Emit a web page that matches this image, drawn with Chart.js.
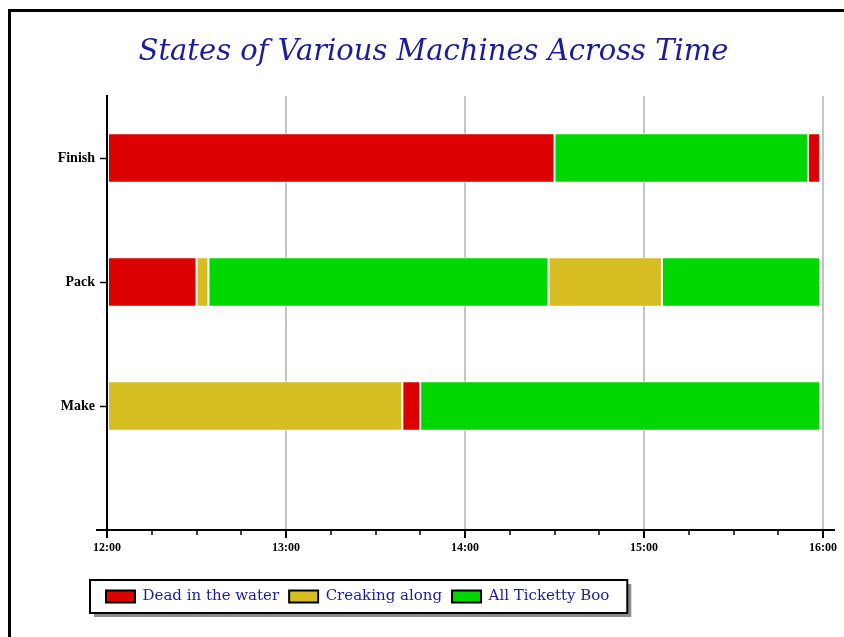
<!DOCTYPE html>
<html>
<head>
<meta charset="utf-8">
<script src="https://cdn.jsdelivr.net/npm/chart.js@4/dist/chart.umd.min.js"></script>
<style>
  body { margin: 0; background: #fff; overflow: hidden; }
  #frame { position: absolute; left: 8px; top: 9px; width: 900px; height: 700px; border: 3px solid #000; }
  #title { position: absolute; left: 0; width: 867px; top: 33px; line-height: 34px; text-align: center;
           font: italic 29px "DejaVu Serif"; color: #1c1c96; z-index: 2; }
  canvas { position: absolute; left: 0; top: 0; z-index: 1; }
</style>
</head>
<body>
<div id="frame"></div>
<div id="title">States of Various Machines Across Time</div>
<canvas id="chart" width="844" height="637"></canvas>
<script>
const machines = ['Finish', 'Pack', 'Make'];
const states = ['Dead in the water', 'Creaking along', 'All Ticketty Boo'];
const hourLabels = ['12:00', '13:00', '14:00', '15:00', '16:00'];

// times where each machine changes state, and the state between them
const finishTimes = ['12:00', '14:30', '15:55', '15:59'];
const finishStates = [0, 2, 0];
const packTimes = ['12:00', '12:30', '12:34', '14:28', '15:06', '15:59'];
const packStates = [0, 1, 2, 1, 2];
const makeTimes = ['12:00', '13:39', '13:45', '15:59'];
const makeStates = [1, 0, 2];

const stateColors = ['#dc0000', '#d6bd22', '#00d600'];
const inkBlue = '#1c1c96';

const toMinutes = t => {
  const [h, m] = t.split(':').map(Number);
  return (h - 12) * 60 + m;
};

const timelines = [[finishTimes, finishStates], [packTimes, packStates], [makeTimes, makeStates]];

const datasets = states.map((label, s) => ({
  label,
  data: [],
  backgroundColor: stateColors[s],
  borderColor: '#fff',
  borderWidth: 1,
  borderSkipped: false,
  grouped: false,
  barPercentage: 0.4,
  categoryPercentage: 1
}));

timelines.forEach(([times, codes], m) => {
  codes.forEach((s, i) => {
    datasets[s].data.push({y: machines.length - m, x: [toMinutes(times[i]), toMinutes(times[i + 1])]});
  });
});

const extras = {
  id: 'extras',
  afterLayout(chart) {
    // legend starts just left of the plot, not at the canvas padding
    chart.legend.left = chart.chartArea.left - 11;
  },
  beforeDraw(chart) {
    // boxed legend with a drop shadow
    const boxes = chart.legend.legendHitBoxes;
    if (!boxes || !boxes.length) return;
    const first = boxes[0], last = boxes[boxes.length - 1];
    const x0 = first.left - 16, x1 = last.left + last.width + 18;
    const y0 = first.top - 9, y1 = first.top + first.height + 9;
    const ctx = chart.ctx;
    ctx.save();
    ctx.fillStyle = '#8c8c8c';
    ctx.fillRect(x0 + 4, y0 + 4, x1 - x0, y1 - y0);
    ctx.fillStyle = '#fff';
    ctx.fillRect(x0, y0, x1 - x0, y1 - y0);
    ctx.strokeStyle = '#000';
    ctx.lineWidth = 2;
    ctx.strokeRect(x0, y0, x1 - x0, y1 - y0);
    ctx.restore();
  },
  afterDraw(chart) {
    const {ctx, chartArea} = chart;
    const x = chart.scales.x;
    ctx.save();
    ctx.strokeStyle = '#000';
    ctx.lineWidth = 2;
    ctx.beginPath();
    ctx.moveTo(chartArea.left - 11, chartArea.bottom);
    ctx.lineTo(chartArea.right + 12, chartArea.bottom);
    ctx.stroke();
    // quarter hour minor ticks
    ctx.lineWidth = 1.5;
    for (let m = x.min + 15; m < x.max; m += 15) {
      if (m % 60 === 0) continue;
      const px = Math.round(x.getPixelForValue(m));
      ctx.beginPath();
      ctx.moveTo(px, chartArea.bottom);
      ctx.lineTo(px, chartArea.bottom + 5);
      ctx.stroke();
    }
    ctx.restore();
  }
};

new Chart(document.getElementById('chart'), {
  type: 'bar',
  data: {datasets},
  plugins: [extras],
  options: {
    indexAxis: 'y',
    responsive: false,
    animation: false,
    layout: {padding: {left: 43, right: 21, top: 96, bottom: 23}},
    scales: {
      x: {
        type: 'linear',
        min: 0,
        max: 240,
        afterFit: s => { s.height = 49; },
        border: {color: '#000', width: 2},
        grid: {color: '#c4c4c4', lineWidth: 2, tickColor: '#000', tickLength: 8, tickWidth: 2},
        ticks: {
          stepSize: 60,
          padding: 3,
          maxRotation: 0,
          color: '#000',
          font: {family: 'Liberation Serif', size: 12, weight: 'bold'},
          callback: v => hourLabels[v / 60]
        }
      },
      y: {
        type: 'linear',
        min: 0,
        max: 3.5,
        offset: false,
        afterFit: s => { s.width = 64; },
        afterBuildTicks: s => { s.ticks = machines.map((_, i) => ({value: i + 1})); },
        border: {color: '#000', width: 2},
        grid: {offset: false, color: '#cfcfcf', lineWidth: 1, tickColor: '#000', tickLength: 7, tickWidth: 1.5},
        ticks: {
          padding: 5,
          color: '#000',
          font: {family: 'Liberation Serif', size: 14, weight: 'bold'},
          callback: v => machines[machines.length - v]
        }
      }
    },
    plugins: {
      title: {display: false},
      tooltip: {enabled: false},
      legend: {
        position: 'bottom',
        align: 'start',
        labels: {
          boxWidth: 29,
          boxHeight: 12,
          padding: 10,
          color: inkBlue,
          font: {family: 'DejaVu Serif', size: 15},
          generateLabels: chart => chart.data.datasets.map((d, i) => ({
            text: d.label,
            fillStyle: d.backgroundColor,
            strokeStyle: '#000',
            lineWidth: 2,
            hidden: false,
            datasetIndex: i,
            fontColor: inkBlue
          }))
        }
      }
    }
  }
});
</script>
</body>
</html>
